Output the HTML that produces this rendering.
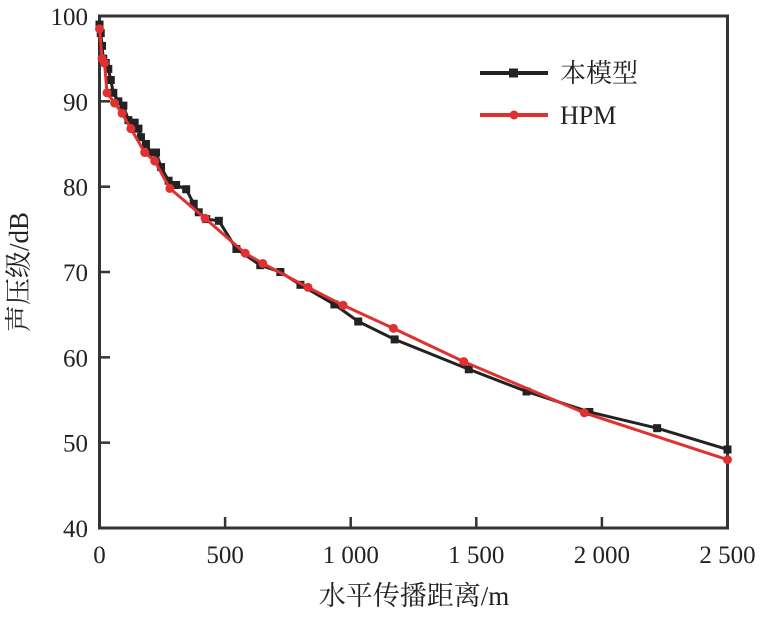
<!DOCTYPE html>
<html><head><meta charset="utf-8"><style>
body{margin:0;background:#fff}
svg text{font-family:"Liberation Serif","Noto Serif CJK SC",serif;fill:#222}
</style></head><body>
<svg id="s" width="766" height="614" xmlns="http://www.w3.org/2000/svg">
<rect x="99.5" y="16" width="628" height="512" fill="none" stroke="#333" stroke-width="3"/>
<g id="ticks" stroke="#333" stroke-width="2.5"></g>
<g id="labels" font-size="25"></g>
<g id="series"></g>
<line x1="480" y1="73" x2="548" y2="73" stroke="#222" stroke-width="4"/>
<rect x="509" y="68.5" width="9" height="9" fill="#222"/>
<text x="560" y="82" font-size="26">本模型</text>
<line x1="480" y1="115" x2="548" y2="115" stroke="#e03030" stroke-width="4"/>
<circle cx="514" cy="115" r="4.5" fill="#e03030"/>
<text x="560" y="124" font-size="26">HPM</text>
<text x="414" y="605" font-size="27" text-anchor="middle">水平传播距离/m</text>
<text transform="translate(28,272) rotate(-90)" font-size="27" text-anchor="middle">声压级/dB</text>
</svg>
<script>
var X=v=>99.5+v*0.2512, Y=d=>528-(d-40)*8.533, NS="http://www.w3.org/2000/svg";
function el(t,a,p){var e=document.createElementNS(NS,t);for(var k in a)e.setAttribute(k,a[k]);p.appendChild(e);return e;}
var tk=document.getElementById('ticks'),lb=document.getElementById('labels'),se=document.getElementById('series');
[0,500,1000,1500,2000,2500].forEach((v,i)=>{el('line',{x1:X(v),y1:528,x2:X(v),y2:517},tk);
 var t=el('text',{x:X(v),y:563,'text-anchor':i==5?'middle':'middle'},lb);t.textContent=['0','500','1 000','1 500','2 000','2 500'][i];});
for(var d=40;d<=100;d+=10){el('line',{x1:99.5,y1:Y(d),x2:110,y2:Y(d)},tk);var t=el('text',{x:88,y:Y(d)+9,'text-anchor':'end'},lb);t.textContent=d;}
var B=[[0,99],[5,98],[10,96.5],[15,95],[25,94.5],[35,93.8],[45,92.5],[55,91],[75,90],[95,89.5],[115,87.8],[140,87.5],[155,86.8],[165,85.8],[185,85],[205,84],[225,84],[245,82.3],[275,80.7],[305,80.2],[345,79.7],[375,78],[395,77],[425,76.2],[475,76],[545,72.7],[640,70.8],[720,70],[800,68.5],[935,66.2],[1030,64.2],[1175,62.1],[1470,58.6],[1700,56],[1950,53.6],[2220,51.7],[2500,49.2]];
var R=[[0,98.5],[10,95],[20,94.5],[30,91],[60,89.8],[90,88.6],[125,86.8],[180,84],[220,83],[280,79.8],[420,76.3],[580,72.2],[650,71],[830,68.2],[970,66.1],[1170,63.4],[1450,59.5],[1930,53.5],[2500,48]];
el('polyline',{points:B.map(p=>X(p[0])+','+Y(p[1])).join(' '),fill:'none',stroke:'#222','stroke-width':3},se);
B.forEach(p=>el('rect',{x:X(p[0])-4,y:Y(p[1])-4,width:8,height:8,fill:'#222'},se));
el('polyline',{points:R.map(p=>X(p[0])+','+Y(p[1])).join(' '),fill:'none',stroke:'#e03030','stroke-width':3},se);
R.forEach(p=>el('circle',{cx:X(p[0]),cy:Y(p[1]),r:4.5,fill:'#e03030'},se));
</script>
</body></html>
